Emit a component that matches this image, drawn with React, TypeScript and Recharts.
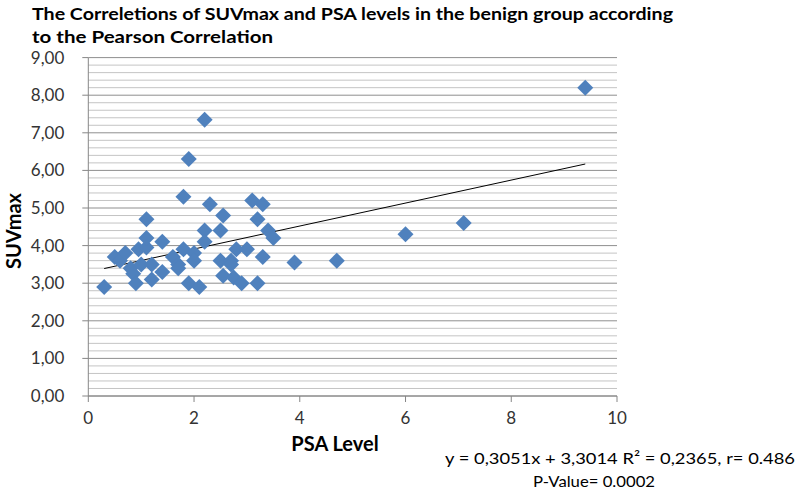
import React from 'react';
import { ScatterChart, Scatter, XAxis, YAxis, CartesianGrid, ReferenceLine } from 'recharts';

const psaLevel = [
  0.3, 0.5, 0.6, 0.7, 0.8, 0.85, 0.9, 0.95, 1.0, 1.1, 1.1, 1.1, 1.2, 1.2, 1.4, 1.4,
  1.6, 1.7, 1.7, 1.8, 1.8, 1.9, 1.9, 2.0, 2.0, 2.1, 2.2, 2.2, 2.2, 2.3, 2.5, 2.5,
  2.55, 2.55, 2.7, 2.7, 2.75, 2.8, 2.9, 3.0, 3.1, 3.2, 3.2, 3.3, 3.3, 3.4, 3.5, 3.9,
  4.7, 6.0, 7.1, 9.4,
];
const suvMax = [
  2.9, 3.7, 3.6, 3.8, 3.4, 3.25, 3.0, 3.9, 3.5, 3.95, 4.7, 4.2, 3.5, 3.1, 4.1, 3.3,
  3.7, 3.5, 3.4, 5.3, 3.9, 6.3, 3.0, 3.8, 3.6, 2.9, 7.35, 4.4, 4.1, 5.1, 4.4, 3.6,
  4.8, 3.2, 3.6, 3.5, 3.15, 3.9, 3.0, 3.9, 5.2, 4.7, 3.0, 5.1, 3.7, 4.4, 4.2, 3.55,
  3.6, 4.3, 4.6, 8.2,
];
const xTicks = [0, 2, 4, 6, 8, 10];
const yTicks = [0, 1, 2, 3, 4, 5, 6, 7, 8, 9];
const trendX = [0.3, 9.4];
const trendY = [3.39, 6.17];

const titleLines = [
  'The Correletions of SUVmax and PSA levels in the benign group according',
  'to the Pearson Correlation',
];
const xAxisTitle = 'PSA Level';
const yAxisTitle = 'SUVmax';
const equationText = 'y = 0,3051x + 3,3014 R² = 0,2365, r= 0.486';
const pValueText = 'P-Value= 0.0002';

const points = psaLevel.map((x, i) => ({ x, y: suvMax[i] }));

const minorGrid: number[] = [];
for (let i = 1; i < 45; i++) {
  if (i % 5 !== 0) minorGrid.push(i / 5);
}

const Diamond = (props: any) => {
  const { cx, cy } = props;
  const r = 8;
  return (
    <polygon
      points={`${cx},${cy - r} ${cx + r},${cy} ${cx},${cy + r} ${cx - r},${cy}`}
      fill="#4f81bd"
    />
  );
};

const font = 'Lato, "Open Sans", sans-serif';
const axisColor = '#868686';

export default function App() {
  return (
    <div style={{ position: 'absolute', left: 0, top: 0, width: 800, height: 491, background: '#fff' }}>
      <ScatterChart
        width={800}
        height={491}
        margin={{ top: 57.6, right: 183, bottom: 65, left: 0 }}
      >
        {minorGrid.map((v) => (
          <ReferenceLine key={`m${v}`} y={v} stroke="#c4c4c4" strokeWidth={1} />
        ))}
        <CartesianGrid horizontal vertical={false} stroke="#8f8f8f" />
        <XAxis
          type="number"
          dataKey="x"
          domain={[0, 10]}
          ticks={xTicks}
          height={30}
          tickSize={6}
          tickMargin={10}
          stroke={axisColor}
          tick={{ fill: '#333', fontSize: 17, fontFamily: font }}
          interval={0}
        />
        <YAxis
          type="number"
          dataKey="y"
          domain={[0, 9]}
          ticks={yTicks}
          width={88.3}
          tickSize={6}
          tickMargin={18}
          stroke={axisColor}
          tickFormatter={(v: number) => v.toFixed(2).replace('.', ',')}
          tick={{ fill: '#333', fontSize: 17, fontFamily: font }}
          interval={0}
        />
        <Scatter data={points} shape={Diamond} isAnimationActive={false} />
        <ReferenceLine
          segment={[
            { x: trendX[0], y: trendY[0] },
            { x: trendX[1], y: trendY[1] },
          ]}
          stroke="#000"
          strokeWidth={1}
        />
      </ScatterChart>
      <svg
        width={800}
        height={491}
        style={{ position: 'absolute', left: 0, top: 0, pointerEvents: 'none', overflow: 'visible' }}
      >
        <text x={32} y={20} fontFamily={font} fontWeight="bold" fontSize={17} fill="#000"
          textLength={641} lengthAdjust="spacingAndGlyphs">
          {titleLines[0]}
        </text>
        <text x={32} y={43} fontFamily={font} fontWeight="bold" fontSize={17} fill="#000"
          textLength={241} lengthAdjust="spacingAndGlyphs">
          {titleLines[1]}
        </text>
        <text x={13} y={231} transform="rotate(-90 13 231)" textAnchor="middle" dominantBaseline="central"
          fontFamily={font} fontWeight="bold" fontSize={20} fill="#000">
          {yAxisTitle}
        </text>
        <text x={335} y={451} textAnchor="middle" fontFamily={font} fontWeight="bold" fontSize={20} fill="#000">
          {xAxisTitle}
        </text>
        <text x={445} y={464} fontFamily={font} fontSize={16} fill="#000"
          textLength={350} lengthAdjust="spacingAndGlyphs">
          {equationText}
        </text>
        <text x={533} y={487} fontFamily={font} fontSize={16} fill="#000"
          textLength={122} lengthAdjust="spacingAndGlyphs">
          {pValueText}
        </text>
      </svg>
    </div>
  );
}
